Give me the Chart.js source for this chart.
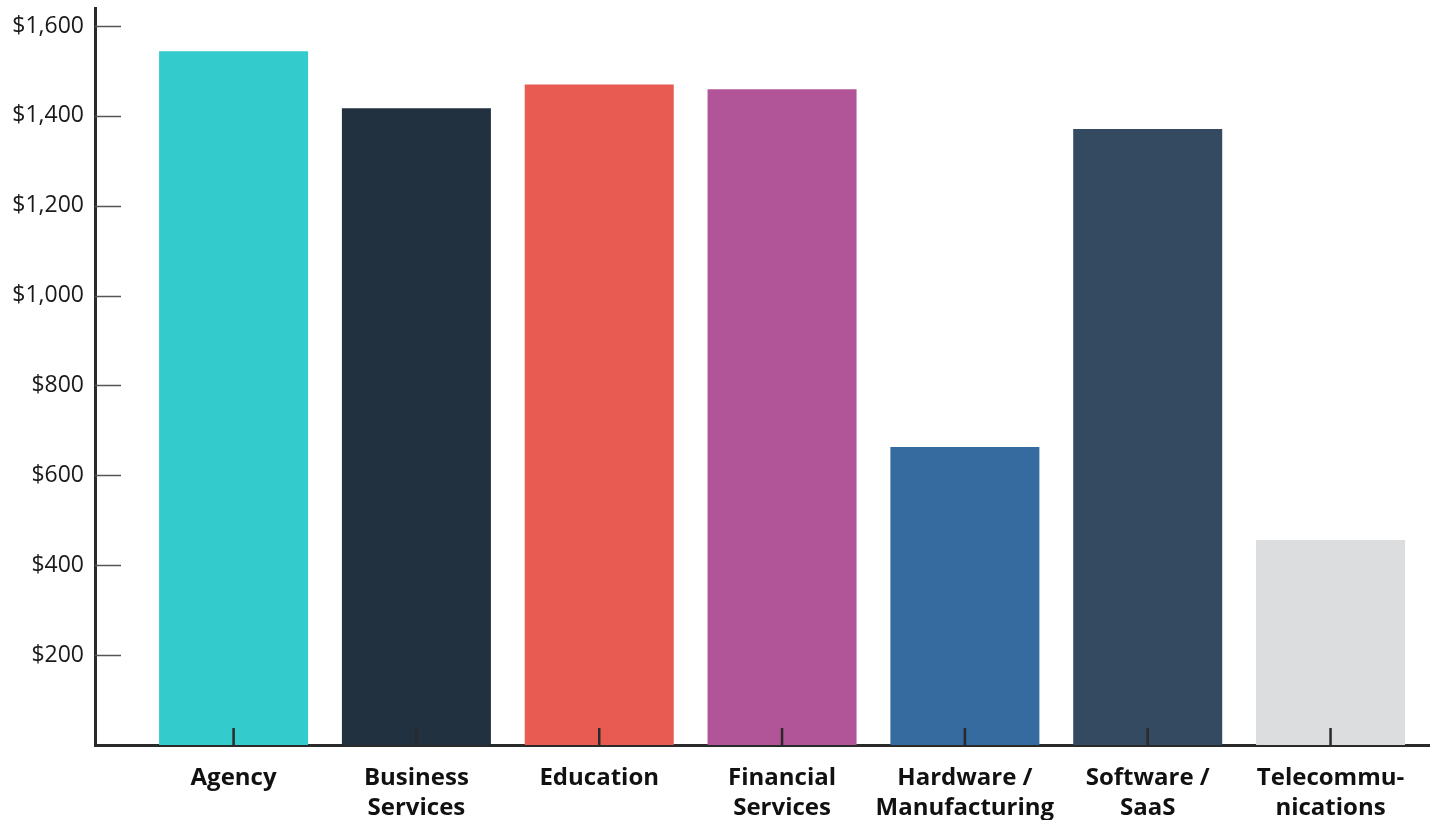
<!DOCTYPE html>
<html>
<head>
<meta charset="utf-8">
<script src="https://cdn.jsdelivr.net/npm/chart.js@4.4.1/dist/chart.umd.min.js"></script>
<style>
  html, body { margin: 0; padding: 0; background: #fff; }
  #wrap { width: 1430px; height: 820px; }
</style>
</head>
<body>
<div id="wrap"><canvas id="barChart"></canvas></div>
<script>
const categories = [
  ['Agency'],
  ['Business', 'Services'],
  ['Education'],
  ['Financial', 'Services'],
  ['Hardware /', 'Manufacturing'],
  ['Software /', 'SaaS'],
  ['Telecommu-', 'nications']
];
const values = [1544, 1417, 1470, 1459, 663, 1371, 456];
const barColors = ['#34cbcc', '#223140', '#e85b52', '#b25498', '#356b9f', '#344a61', '#dcddde'];
const yTicks = [200, 400, 600, 800, 1000, 1200, 1400, 1600];

// short tick marks drawn inside the plot, off the axis lines
const innerTicks = {
  id: 'innerTicks',
  afterDatasetsDraw(chart) {
    const { ctx, chartArea, scales } = chart;
    ctx.save();
    ctx.strokeStyle = '#555';
    ctx.lineWidth = 1.5;
    yTicks.forEach(v => {
      const y = Math.round(scales.y.getPixelForValue(v)) + 0.5;
      ctx.beginPath();
      ctx.moveTo(chartArea.left, y);
      ctx.lineTo(chartArea.left + 26, y);
      ctx.stroke();
    });
    ctx.strokeStyle = '#2a2a2a';
    ctx.lineWidth = 2.5;
    categories.forEach((c, i) => {
      const x = scales.x.getPixelForValue(i);
      ctx.beginPath();
      ctx.moveTo(x, chartArea.bottom);
      ctx.lineTo(x, chartArea.bottom - 17);
      ctx.stroke();
    });
    ctx.restore();
  }
};

new Chart(document.getElementById('barChart'), {
  type: 'bar',
  data: {
    datasets: [{
      data: values.map((v, i) => ({ x: i, y: v })),
      backgroundColor: barColors,
      borderWidth: 0,
      barPercentage: 0.815,
      categoryPercentage: 1
    }]
  },
  options: {
    responsive: true,
    maintainAspectRatio: false,
    animation: false,
    layout: { padding: { top: 8, right: 0, bottom: 0, left: 0 } },
    plugins: { legend: { display: false }, tooltip: { enabled: false } },
    scales: {
      x: {
        type: 'linear',
        offset: false,
        min: -0.758,
        max: 6.544,
        afterBuildTicks: s => { s.ticks = categories.map((c, i) => ({ value: i })); },
        afterFit: s => { s.height = 75; s.paddingLeft = 0; s.paddingRight = 0; },
        grid: { display: false, drawTicks: false },
        border: { display: true, color: '#2a2a2a', width: 3 },
        ticks: {
          autoSkip: false,
          maxRotation: 0,
          padding: 18,
          color: '#111',
          font: { family: 'Open Sans', size: 24, weight: 'bold', lineHeight: 1.25 },
          callback: v => categories[v]
        }
      },
      y: {
        min: 0,
        max: 1640,
        afterBuildTicks: s => { s.ticks = yTicks.map(v => ({ value: v })); },
        afterFit: s => { s.width = 95; s.paddingTop = 0; s.paddingBottom = 0; },
        grid: { display: false, drawTicks: false },
        border: { display: true, color: '#2a2a2a', width: 3 },
        ticks: {
          padding: 11,
          color: '#1a1a1a',
          font: { family: 'Open Sans', size: 23 },
          callback: v => '$' + v.toLocaleString('en-US')
        }
      }
    }
  },
  plugins: [innerTicks]
});
</script>
</body>
</html>
